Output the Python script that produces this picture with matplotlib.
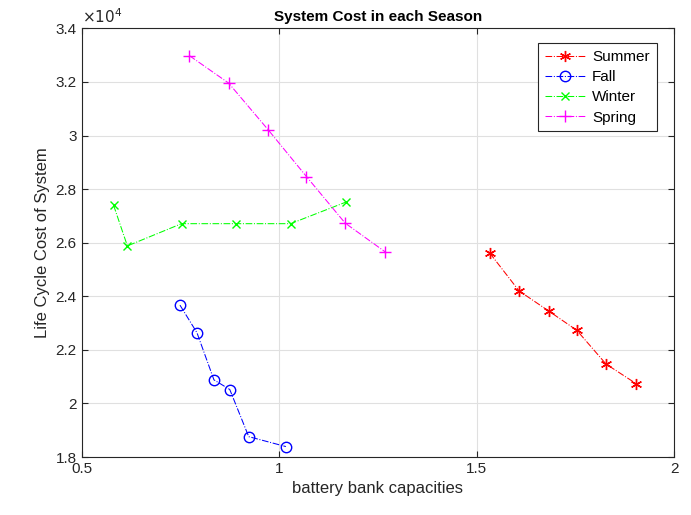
import matplotlib
matplotlib.use("Agg")
import matplotlib.pyplot as plt
from matplotlib.ticker import FuncFormatter, MultipleLocator

plt.rcParams['font.family'] = ['Liberation Sans', 'DejaVu Sans']

summer_x = [1.533, 1.607, 1.682, 1.753, 1.827, 1.903]
summer_y = [25610, 24200, 23450, 22730, 21470, 20740]
fall_x = [0.749, 0.792, 0.835, 0.875, 0.923, 1.017]
fall_y = [23670, 22640, 20880, 20520, 18760, 18390]
winter_x = [0.581, 0.616, 0.753, 0.890, 1.029, 1.168]
winter_y = [27400, 25880, 26710, 26710, 26710, 27510]
spring_x = [0.773, 0.872, 0.973, 1.069, 1.167, 1.268]
spring_y = [32980, 31960, 30200, 28470, 26730, 25660]

fig = plt.figure(figsize=(6.91, 5.15), dpi=100)
ax = fig.add_axes([0.118, 0.1126, 0.858, 0.8323])

ax.plot(summer_x, summer_y, color='#ff0000', ls='-.', marker=(6, 2, 0), ms=8, lw=0.75, label='Summer')
ax.plot(fall_x, fall_y, color='#0000ff', ls='-.', marker='o', ms=7.5, mfc='none', lw=0.75, label='Fall')
ax.plot(winter_x, winter_y, color='#00ff00', ls='-.', marker='x', ms=6, lw=0.75, label='Winter')
ax.plot(spring_x, spring_y, color='#ff00ff', ls='-.', marker='+', ms=9, lw=0.75, label='Spring')

ax.set_xlim(0.5, 2)
ax.set_ylim(18000, 34000)
ax.xaxis.set_major_locator(MultipleLocator(0.5))
ax.yaxis.set_major_locator(MultipleLocator(2000))
ax.xaxis.set_major_formatter(FuncFormatter(lambda v, p: f"{v:g}"))
ax.yaxis.set_major_formatter(FuncFormatter(lambda v, p: f"{v/1e4:g}"))
ax.grid(True, color='#e0e0e0', lw=0.8)
ax.set_axisbelow(True)
for s in ax.spines.values():
    s.set_color('#262626')
    s.set_linewidth(0.8)
ax.tick_params(direction='in', top=True, right=True, labelsize=11, colors='#262626', length=4)

ax.text(0.0, 1.005, r'$\times10^4$', transform=ax.transAxes, fontsize=11, color='#262626', va='bottom', ha='left')
ax.set_title('System Cost in each Season', fontsize=11, fontweight='bold', pad=5)
ax.set_xlabel('battery bank capacities', fontsize=12, color='#262626')
ax.set_ylabel('Life Cycle Cost of System', fontsize=12, color='#262626')

leg = ax.legend(loc='upper right', bbox_to_anchor=(0.983, 0.983), fontsize=11, fancybox=False,
                edgecolor='#262626', framealpha=1, handlelength=2.6, handletextpad=0.5,
                borderpad=0.45, labelspacing=0.4)
leg.get_frame().set_linewidth(0.8)

fig.savefig('out.png', dpi=100)
